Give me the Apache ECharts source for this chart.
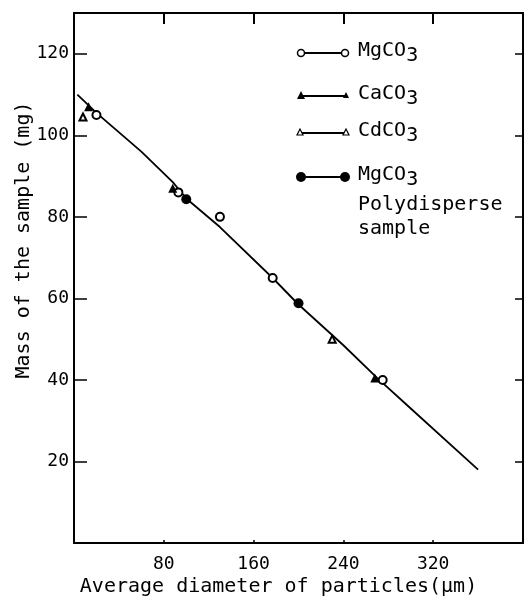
<!DOCTYPE html>
<html><head><meta charset="utf-8">
<script src="https://cdn.jsdelivr.net/npm/echarts@6/dist/echarts.min.js"></script>
<style>html,body{margin:0;padding:0;background:#fff}#c{width:524px;height:603px}</style>
</head><body><div id="c"></div>
<script>
// Fitted curve
const lineX = [3, 20, 60, 88, 100, 130, 177, 200, 240, 270, 300, 360];
const lineY = [110, 105.5, 96, 88.5, 84.5, 77.5, 65, 58.5, 48.5, 40.5, 33, 18];
// MgCO3 (open circles)
const mgX = [20, 93, 130, 177, 275];
const mgY = [105, 86, 80, 65, 40];
// CaCO3 (filled triangles)
const caX = [13, 88, 268];
const caY = [107, 87, 40.5];
// CdCO3 (open triangles)
const cdX = [8, 230];
const cdY = [104.5, 50];
// MgCO3 polydisperse (filled circles)
const polyX = [100, 200];
const polyY = [84.3, 58.8];
// Ticks
const xTicks = [80, 160, 240, 320];
const yTicks = [20, 40, 60, 80, 100, 120];

const FONT = '"DejaVu Sans Mono", monospace';
const pairs = (xs, ys) => xs.map((x, i) => [x, ys[i]]);

const chart = echarts.init(document.getElementById('c'), null, {renderer: 'canvas'});

const legendRows = [
  {y: 53, name: 'MgCO', sub: '3'},
  {y: 96, name: 'CaCO', sub: '3'},
  {y: 133, name: 'CdCO', sub: '3'},
  {y: 177, name: 'MgCO', sub: '3'}
];
const LF = '20px ' + FONT;
const graphic = [];
legendRows.forEach((r, i) => {
  graphic.push({type: 'line', shape: {x1: 300, y1: r.y, x2: 345, y2: r.y}, style: {stroke: '#000', lineWidth: 2}});
  if (i === 0) {
    graphic.push({type: 'circle', shape: {cx: 301, cy: r.y, r: 3.5}, style: {fill: '#fff', stroke: '#000', lineWidth: 1.5}});
    graphic.push({type: 'circle', shape: {cx: 345, cy: r.y, r: 3.5}, style: {fill: '#fff', stroke: '#000', lineWidth: 1.5}});
  } else if (i === 1) {
    graphic.push({type: 'polygon', shape: {points: [[301, r.y - 5], [297, r.y + 3], [305, r.y + 3]]}, style: {fill: '#000'}});
    graphic.push({type: 'polygon', shape: {points: [[346, r.y - 4], [343, r.y + 2], [349, r.y + 2]]}, style: {fill: '#000'}});
  } else if (i === 2) {
    graphic.push({type: 'polygon', shape: {points: [[300, r.y - 4], [297, r.y + 2], [303, r.y + 2]]}, style: {fill: '#fff', stroke: '#000', lineWidth: 1.2}});
    graphic.push({type: 'polygon', shape: {points: [[346, r.y - 4], [343, r.y + 2], [349, r.y + 2]]}, style: {fill: '#fff', stroke: '#000', lineWidth: 1.2}});
  } else {
    graphic.push({type: 'circle', shape: {cx: 301, cy: r.y, r: 5}, style: {fill: '#000'}});
    graphic.push({type: 'circle', shape: {cx: 345, cy: r.y, r: 5}, style: {fill: '#000'}});
  }
  graphic.push({
    type: 'text', x: 358, y: r.y - 12,
    style: {
      text: '{a|' + r.name + '}{s|' + r.sub + '}',
      rich: {
        a: {font: LF, fill: '#000', verticalAlign: 'top', lineHeight: 22},
        s: {font: LF, fill: '#000', verticalAlign: 'top', lineHeight: 22, padding: [5, 0, 0, 0]}
      }
    }
  });
});
graphic.push({type: 'text', x: 358, y: 205, style: {text: 'Polydisperse', font: LF, fill: '#000', verticalAlign: 'middle'}});
graphic.push({type: 'text', x: 358, y: 229, style: {text: 'sample', font: LF, fill: '#000', verticalAlign: 'middle'}});

const axisLineStyle = {show: true, onZero: false, lineStyle: {color: '#000', width: 2}};

chart.setOption({
  animation: false,
  backgroundColor: '#fff',
  grid: {left: 74, right: 1, top: 13, bottom: 60, containLabel: false, outerBoundsMode: 'none'},
  xAxis: [{
    type: 'value', position: 'bottom', min: 0, max: 400, interval: 80,
    axisLine: axisLineStyle,
    axisTick: {show: true, inside: true, length: 3, customValues: xTicks, lineStyle: {color: '#000', width: 1.5}},
    axisLabel: {color: '#000', fontFamily: FONT, fontSize: 18, margin: 12, customValues: xTicks},
    splitLine: {show: false},
    name: 'Average diameter of particles(\u03bcm)',
    nameLocation: 'middle', nameGap: 34, nameMoveOverlap: false,
    nameTextStyle: {color: '#000', fontFamily: FONT, fontSize: 20, padding: [0, 40, 0, 0]}
  }, {
    type: 'value', position: 'top', min: 0, max: 400, interval: 80,
    axisLine: axisLineStyle,
    axisTick: {show: true, inside: true, length: 11, customValues: xTicks, lineStyle: {color: '#000', width: 2}},
    axisLabel: {show: false}, splitLine: {show: false}
  }],
  yAxis: [{
    type: 'value', position: 'left', min: 0, max: 130, interval: 20,
    axisLine: axisLineStyle,
    axisTick: {show: true, inside: true, length: 13, customValues: yTicks, lineStyle: {color: '#000', width: 1.5}},
    axisLabel: {color: '#000', fontFamily: FONT, fontSize: 18, margin: 5, customValues: yTicks},
    splitLine: {show: false},
    name: 'Mass of the sample (mg)',
    nameLocation: 'middle', nameGap: 40, nameMoveOverlap: false,
    nameTextStyle: {color: '#000', fontFamily: FONT, fontSize: 20, padding: [0, 0, 0, 76]}
  }, {
    type: 'value', position: 'right', min: 0, max: 130, interval: 20,
    axisLine: axisLineStyle,
    axisTick: {show: true, inside: true, length: 8, customValues: yTicks, lineStyle: {color: '#000', width: 1.5}},
    axisLabel: {show: false}, splitLine: {show: false}
  }],
  graphic: graphic,
  series: [{
    type: 'line', name: 'fit', data: pairs(lineX, lineY), symbol: 'none',
    lineStyle: {color: '#000', width: 1.8}, z: 2
  }, {
    type: 'scatter', name: 'MgCO3', data: pairs(mgX, mgY), symbol: 'emptyCircle', symbolSize: 8,
    itemStyle: {color: '#000', borderColor: '#000', borderWidth: 1.8, opacity: 1}, z: 3
  }, {
    type: 'scatter', name: 'CaCO3', data: pairs(caX, caY), symbol: 'triangle', symbolSize: 9,
    itemStyle: {color: '#000', opacity: 1}, z: 3
  }, {
    type: 'scatter', name: 'CdCO3', data: pairs(cdX, cdY), symbol: 'emptyTriangle', symbolSize: 7,
    itemStyle: {color: '#000', borderColor: '#000', borderWidth: 1.5, opacity: 1}, z: 3
  }, {
    type: 'scatter', name: 'MgCO3 Polydisperse sample', data: pairs(polyX, polyY), symbol: 'circle', symbolSize: 10,
    itemStyle: {color: '#000', opacity: 1}, z: 3
  }]
});
</script></body></html>
